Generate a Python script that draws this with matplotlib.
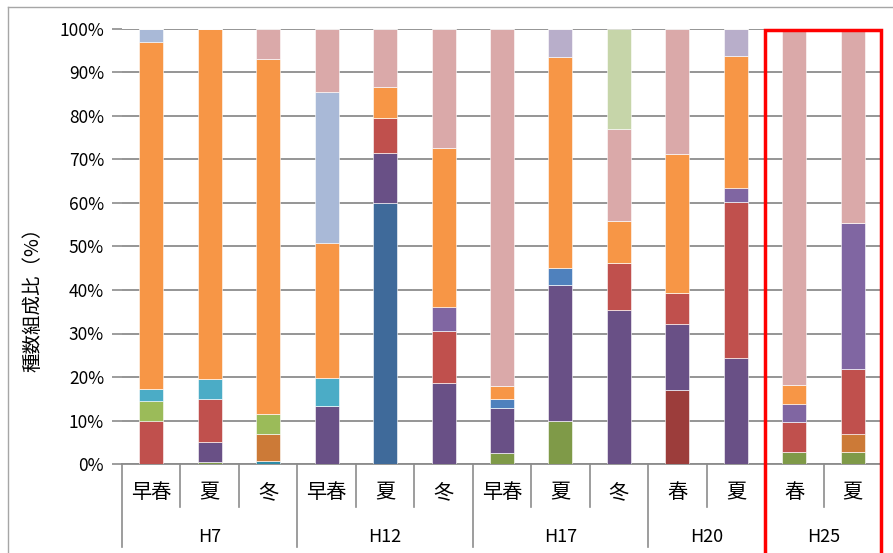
import numpy as np
import matplotlib.pyplot as plt
from matplotlib.patches import Rectangle
from matplotlib.lines import Line2D

plt.rcParams['font.family'] = ['Noto Sans CJK JP', 'DejaVu Sans']

# カテゴリ
seasons = ['早春', '夏', '冬', '早春', '夏', '冬', '早春', '夏', '冬', '春', '夏', '春', '夏']
years = ['H7', 'H12', 'H17', 'H20', 'H25']
year_span = [3, 3, 3, 2, 2]

# 種群ごとの組成比 (%) 下から順に積み上げ
olive       = [0, 0.5, 0, 0, 0, 0, 2.5, 10.0, 0, 0, 0, 2.8, 2.8]
darkred     = [0, 0, 0, 0, 0, 0, 0, 0, 0, 16.9, 0, 0, 0]
darkblue    = [0, 0, 0, 0, 59.9, 0, 0, 0, 0, 0, 0, 0, 0]
teal        = [0, 0, 0.8, 0, 0, 0, 0, 0, 0, 0, 0, 0, 0]
purple      = [0, 4.6, 0, 13.3, 11.7, 18.6, 10.3, 31.1, 35.4, 15.3, 24.4, 0, 0]
orangedark  = [0, 0, 6.0, 0, 0, 0, 0, 0, 0, 0, 0, 0, 4.1]
red         = [10.0, 9.9, 0, 0, 7.9, 11.9, 0, 0, 10.7, 7.1, 35.8, 6.9, 14.9]
lightgreen  = [4.4, 0, 4.7, 0, 0, 0, 0, 0, 0, 0, 0, 0, 0]
aqua        = [2.8, 4.6, 0, 6.4, 0, 0, 0, 0, 0, 0, 0, 0, 0]
blue        = [0, 0, 0, 0, 0, 0, 2.2, 4.0, 0, 0, 0, 0, 0]
purplelight = [0, 0, 0, 0, 0, 5.7, 0, 0, 0, 0, 3.2, 4.2, 33.7]
orange      = [79.8, 80.4, 81.6, 31.1, 7.2, 36.4, 2.9, 48.4, 9.7, 31.9, 30.3, 4.3, 0]
lightblue   = [3.0, 0, 0, 34.8, 0, 0, 0, 0, 0, 0, 0, 0, 0]
lightpurple = [0, 0, 0, 0, 0, 0, 0, 6.5, 0, 0, 6.3, 0, 0]
pink        = [0, 0, 6.9, 14.4, 13.3, 27.4, 82.1, 0, 21.1, 28.8, 0, 81.8, 44.5]
palegreen   = [0, 0, 0, 0, 0, 0, 0, 0, 23.1, 0, 0, 0, 0]

series = [
    (olive, '#7F9A48'), (darkred, '#9C3D3B'), (darkblue, '#3F6A9A'),
    (teal, '#2C8BA6'), (purple, '#695086'), (orangedark, '#CC7A37'),
    (red, '#C0504D'), (lightgreen, '#9BBB59'), (aqua, '#4BACC6'),
    (blue, '#4F81BD'), (purplelight, '#8066A2'), (orange, '#F79646'),
    (lightblue, '#A9B9D7'), (lightpurple, '#B8AECA'), (pink, '#DAA9A9'),
    (palegreen, '#C6D5A9'),
]

W, H = 893, 553
fig = plt.figure(figsize=(W / 100, H / 100), dpi=100)
ax = fig.add_axes([122 / W, 1 - 464 / H, 760 / W, 435 / H])

x = np.arange(len(seasons))
bottom = np.zeros(len(seasons))
for vals, col in series:
    v = np.array(vals, dtype=float)
    ax.bar(x, v, width=0.41, bottom=bottom, color=col, edgecolor='white',
           linewidth=0.4, zorder=3)
    bottom += v

grid_c = '#8C8C8C'
ax.set_xlim(-0.5, len(seasons) - 0.5)
ax.set_ylim(0, 100)
ax.set_yticks(np.arange(0, 101, 10))
ax.set_yticklabels([f'{t}%' for t in range(0, 101, 10)], fontsize=12.5, color='#000000')
ax.yaxis.grid(True, color=grid_c, linewidth=1.3, zorder=0)
ax.tick_params(axis='y', length=7, color=grid_c, width=1.2, pad=6)
ax.set_xticks([])
for s in ['left', 'right', 'top']:
    ax.spines[s].set_visible(False)
ax.spines['bottom'].set_color(grid_c)
ax.spines['bottom'].set_linewidth(1.3)

# 2段のカテゴリ軸
trans = ax.get_xaxis_transform()
short_y = -(507 - 464) / 435
long_y = -(547 - 464) / 435
group_edges = np.cumsum([0] + year_span)
for i in range(len(seasons) + 1):
    y_end = long_y if i in group_edges else short_y
    ax.add_line(Line2D([i - 0.5, i - 0.5], [0, y_end], transform=trans,
                       color=grid_c, linewidth=1.2, clip_on=False))
for i, s in enumerate(seasons):
    ax.text(i, -(493 - 464) / 435, s, transform=trans, ha='center', va='center',
            fontsize=14.5)
for k, yr in enumerate(years):
    c = (group_edges[k] + group_edges[k + 1] - 1) / 2
    ax.text(c, -(537 - 464) / 435, yr, transform=trans, ha='center', va='center',
            fontsize=13)

fig.text(33 / W, 1 - 295 / H, '種数組成比（%）', rotation=90, ha='center',
         va='center', fontsize=14)

# グラフエリアの枠
fig.add_artist(Line2D([8 / W, 1], [1 - 7 / H, 1 - 7 / H], transform=fig.transFigure,
                      color='#A6A6A6', linewidth=1.0))
fig.add_artist(Line2D([8 / W, 8 / W], [0, 1 - 7 / H], transform=fig.transFigure,
                      color='#A6A6A6', linewidth=1.0))

# H25 を囲む赤枠
fig.add_artist(Rectangle((764.5 / W, -0.02), (880.5 - 764.5) / W, 1 - 30 / H + 0.02,
                         transform=fig.transFigure, fill=False, edgecolor='#FF0000',
                         linewidth=2.5, clip_on=False))

fig.savefig('out.png', dpi=100)
